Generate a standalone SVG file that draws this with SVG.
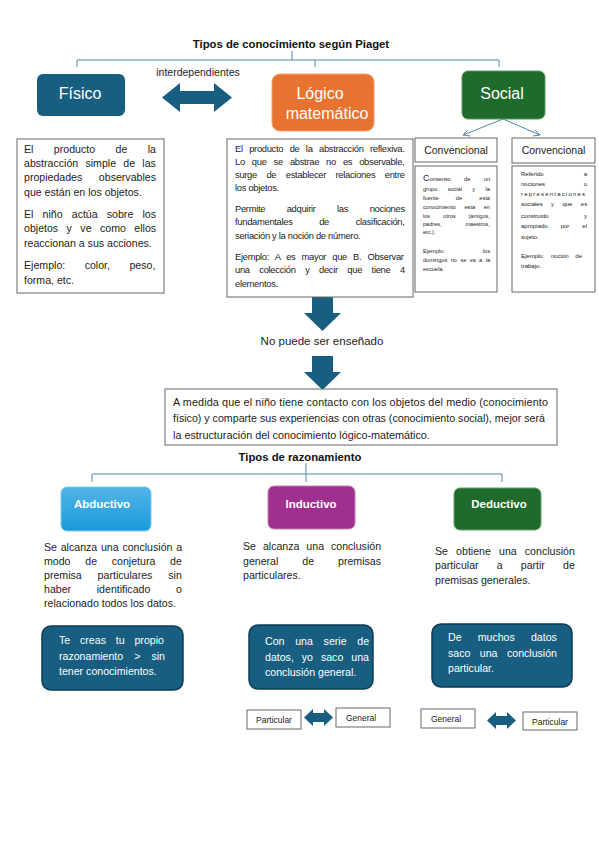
<svg xmlns="http://www.w3.org/2000/svg" width="599" height="848" viewBox="0 0 599 848">
<defs>
<linearGradient id="gAbd" x1="0" y1="0" x2="0" y2="1">
<stop offset="0" stop-color="#52b4e6"/>
<stop offset="1" stop-color="#189bd9"/>
</linearGradient>
</defs>
<style>
text{font-family:"Liberation Sans",Arial,sans-serif;fill:#222}
.title{font-size:11.3px;font-weight:bold;text-anchor:middle;fill:#111}
.big{font-size:16px;fill:#fff;text-anchor:middle}
.b1{font-size:10.6px}
.b2{font-size:9.4px;letter-spacing:-0.3px}
.b3{font-size:10.8px}
.tbox{fill:#fff;stroke:#666;stroke-width:1}
.br{fill:none;stroke:#4f86ad;stroke-width:1}
.arr{fill:#175e80}
.dark{fill:#175e80;stroke:#0e3d55;stroke-width:1.5}
.wt{font-size:10.6px;fill:#fff}
.rz{font-size:11.5px;font-weight:bold;fill:#fff;text-anchor:middle}
.s1{font-size:5.6px}
.s2{font-size:6px}
.hd{font-size:10.5px;text-anchor:middle}
.sm{font-size:8.5px;text-anchor:middle}
</style>
<rect width="599" height="848" fill="#fff"/>

<g id="title1"><text class="title" x="291" y="48">Tipos de conocimiento según Piaget</text></g>

<g id="connectors">
<path class="br" d="M292 51 V60 M77 67 V60 H499 V67 M315 60 V67"/>
<path d="M503 119 L463 135 M503 119 L540 135" fill="none" stroke="#4f86ad" stroke-width="1"/>
<path d="M463 135 l5 -5 M463 135 l7 1" fill="none" stroke="#4f86ad" stroke-width="1"/>
<path d="M540 135 l-7 1 M540 135 l-5 -5" fill="none" stroke="#4f86ad" stroke-width="1"/>
<path class="br" d="M306 463 V474 M92 482 V474 H502 V482 M306 474 V482"/>
<polygon class="arr" points="162,97.5 180,83 180,91 214,91 214,83 232,97.5 214,112 214,104 180,104 180,112"/>
<polygon class="arr" points="312,297 333,297 333,313 341,313 322.5,331 304,313 312,313"/>
<polygon class="arr" points="312,356 333,356 333,372 341,372 322.5,390 304,372 312,372"/>
<polygon class="arr" points="304,717.5 313,709 313,713 324,713 324,709 333,717.5 324,726 324,722 313,722 313,726"/>
<polygon class="arr" points="487,720.5 496,712 496,716 507,716 507,712 516,720.5 507,729 507,725 496,725 496,729"/>
</g>

<g id="interdep"><text x="198" y="76" style="font-size:10.5px;text-anchor:middle">interdependientes</text></g>

<g id="fisico">
<rect x="37" y="74" width="88" height="42" rx="6" fill="#175e80"/>
<text class="big" x="80" y="99">Físico</text>
</g>
<g id="logico">
<rect x="272" y="74" width="102" height="57" rx="8" fill="#e8722f" stroke="#f0a070" stroke-width="1"/>
<text class="big" x="320" y="99">Lógico</text>
<text class="big" x="327" y="119">matemático</text>
</g>
<g id="social">
<rect x="462" y="71" width="83" height="48" rx="6" fill="#1e6b2b" stroke="#5a9a62" stroke-width="1"/>
<text class="big" x="502" y="99">Social</text>
</g>

<g id="fisico-text">
<rect class="tbox" x="17" y="139" width="147" height="154"/>
<text class="b1" x="24" y="153" style="word-spacing:17.5px">El producto de la</text>
<text class="b1" x="24" y="167" style="word-spacing:4.3px">abstracción simple de las</text>
<text class="b1" x="24" y="181" style="word-spacing:13.6px">propiedades observables</text>
<text class="b1" x="24" y="196">que están en los objetos.</text>
<text class="b1" x="24" y="218" style="word-spacing:6.2px">El niño actúa sobre los</text>
<text class="b1" x="24" y="232" style="word-spacing:5.5px">objetos y ve como ellos</text>
<text class="b1" x="24" y="247">reaccionan a sus acciones.</text>
<text class="b1" x="24" y="269" style="word-spacing:16.5px">Ejemplo: color, peso,</text>
<text class="b1" x="24" y="284">forma, etc.</text>
</g>

<g id="logico-text">
<rect class="tbox" x="227" y="139" width="186" height="158"/>
<text class="b2" x="235" y="152" style="word-spacing:4.1px">El producto de la abstracción reflexiva.</text>
<text class="b2" x="235" y="165" style="word-spacing:4.7px">Lo que se abstrae no es observable,</text>
<text class="b2" x="235" y="178" style="word-spacing:7.2px">surge de establecer relaciones entre</text>
<text class="b2" x="235" y="191">los objetos.</text>
<text class="b2" x="235" y="212" style="word-spacing:19.2px">Permite adquirir las nociones</text>
<text class="b2" x="235" y="225" style="word-spacing:24.3px">fundamentales de clasificación,</text>
<text class="b2" x="235" y="239">seriación y la noción de número.</text>
<text class="b2" x="235" y="260" style="word-spacing:3.8px">Ejemplo: A es mayor que B. Observar</text>
<text class="b2" x="235" y="273" style="word-spacing:7.2px">una colección y decir que tiene 4</text>
<text class="b2" x="235" y="287">elementos.</text>
</g>

<g id="conv1">
<rect class="tbox" x="415" y="138" width="82" height="24"/>
<text class="hd" x="456" y="154">Convencional</text>
<rect class="tbox" x="415" y="166" width="82" height="126"/>
<text class="s1" x="423" y="181" style="word-spacing:11.9px"><tspan style="font-size:9px">C</tspan>onsenso de un</text>
<text class="s1" x="423" y="191" style="word-spacing:8.8px">grupo social y la</text>
<text class="s1" x="423" y="200" style="word-spacing:15.7px">fuente de esta</text>
<text class="s1" x="423" y="209" style="word-spacing:7px">conocimiento esta en</text>
<text class="s1" x="423" y="218" style="word-spacing:11.4px">los otros (amigos,</text>
<text class="s1" x="423" y="226" style="word-spacing:22.2px">padres, maestros,</text>
<text class="s1" x="423" y="234">etc.).</text>
<text class="s1" x="423" y="253" style="word-spacing:36.5px">Ejemplo: los</text>
<text class="s1" x="423" y="262" style="word-spacing:1.9px">domingos no se va a la</text>
<text class="s1" x="423" y="271">escuela.</text>
</g>

<g id="conv2">
<rect class="tbox" x="512" y="138" width="83" height="25"/>
<text class="hd" x="553.5" y="154">Convencional</text>
<rect class="tbox" x="512" y="166" width="83" height="126"/>
<text class="s2" x="521" y="176" style="word-spacing:38.3px">Referido a</text>
<text class="s2" x="521" y="186" style="word-spacing:37px">nociones o</text>
<text class="s2" x="521" y="196" textLength="64" lengthAdjust="spacing">representaciones</text>
<text class="s2" x="521" y="206" style="word-spacing:6.7px">sociales y que es</text>
<text class="s2" x="521" y="218" style="word-spacing:33.7px">construido y</text>
<text class="s2" x="521" y="228" style="word-spacing:11.3px">apropiado por el</text>
<text class="s2" x="521" y="239">sujeto.</text>
<text class="s2" x="521" y="258" style="word-spacing:5px">Ejemplo: noción de</text>
<text class="s2" x="521" y="268">trabajo.</text>
</g>

<g id="no-ensenado"><text x="322" y="345" style="font-size:11.5px;text-anchor:middle">No puede ser enseñado</text></g>

<g id="medida">
<rect class="tbox" x="165" y="389" width="392" height="56"/>
<text class="b3" x="173" y="406" textLength="375" lengthAdjust="spacing">A medida que el niño tiene contacto con los objetos del medio (conocimiento</text>
<text class="b3" x="173" y="422" textLength="372" lengthAdjust="spacingAndGlyphs">físico) y comparte sus experiencias con otras (conocimiento social), mejor será</text>
<text class="b3" x="173" y="439">la estructuración del conocimiento lógico-matemático.</text>
</g>

<g id="title2"><text class="title" x="300" y="461">Tipos de razonamiento</text></g>

<g id="abductivo">
<rect x="61" y="487" width="90" height="44" rx="6" fill="url(#gAbd)" stroke="#7cc8ee" stroke-width="1"/>
<text class="rz" x="102" y="508">Abductivo</text>
</g>
<g id="inductivo">
<rect x="268" y="486" width="87" height="43" rx="6" fill="#a0308f" stroke="#c080b5" stroke-width="1"/>
<text class="rz" x="311" y="508">Inductivo</text>
</g>
<g id="deductivo">
<rect x="454" y="488" width="87" height="42" rx="6" fill="#1e6b2b" stroke="#6aa070" stroke-width="1"/>
<text class="rz" x="499" y="508">Deductivo</text>
</g>

<g id="abd-text">
<text class="b1" x="44" y="551" style="word-spacing:0.8px">Se alcanza una conclusión a</text>
<text class="b1" x="44" y="565" style="word-spacing:11.8px">modo de conjetura de</text>
<text class="b1" x="44" y="579" style="word-spacing:13px">premisa particulares sin</text>
<text class="b1" x="44" y="593" style="word-spacing:22.7px">haber identificado o</text>
<text class="b1" x="44" y="607">relacionado todos los datos.</text>
</g>
<g id="ind-text">
<text class="b1" x="243" y="550" style="word-spacing:4px">Se alcanza una conclusión</text>
<text class="b1" x="243" y="565" style="word-spacing:21px">general de premisas</text>
<text class="b1" x="243" y="579">particulares.</text>
</g>
<g id="ded-text">
<text class="b1" x="435" y="555" style="word-spacing:5.2px">Se obtiene una conclusión</text>
<text class="b1" x="435" y="569" style="word-spacing:15.2px">particular a partir de</text>
<text class="b1" x="435" y="584">premisas generales.</text>
</g>

<g id="abd-box">
<rect class="dark" x="42" y="626" width="141" height="64" rx="9"/>
<text class="wt" x="59" y="644" style="word-spacing:6.9px">Te creas tu propio</text>
<text class="wt" x="59" y="660" style="word-spacing:8.1px">razonamiento &gt; sin</text>
<text class="wt" x="59" y="675">tener conocimientos.</text>
</g>
<g id="ind-box">
<rect class="dark" x="249" y="625" width="124" height="64" rx="9"/>
<text class="wt" x="265" y="645" style="word-spacing:7.8px">Con una serie de</text>
<text class="wt" x="265" y="661" style="word-spacing:5px">datos, yo saco una</text>
<text class="wt" x="265" y="676">conclusión general.</text>
</g>
<g id="ded-box">
<rect class="dark" x="432" y="624" width="140" height="63" rx="9"/>
<text class="wt" x="448" y="641" style="word-spacing:13.2px">De muchos datos</text>
<text class="wt" x="448" y="657" style="word-spacing:6.5px">saco una conclusión</text>
<text class="wt" x="448" y="672">particular.</text>
</g>

<g id="part1"><rect class="tbox" x="247" y="710" width="54" height="19"/><text class="sm" x="274" y="723">Particular</text></g>
<g id="gen1"><rect class="tbox" x="336" y="708" width="54" height="19"/><text class="sm" x="361" y="720.5">General</text></g>
<g id="gen2"><rect class="tbox" x="421" y="709" width="54" height="19"/><text class="sm" x="446" y="721.5">General</text></g>
<g id="part2"><rect class="tbox" x="523" y="712" width="54" height="18"/><text class="sm" x="550" y="724.5">Particular</text></g>
</svg>
